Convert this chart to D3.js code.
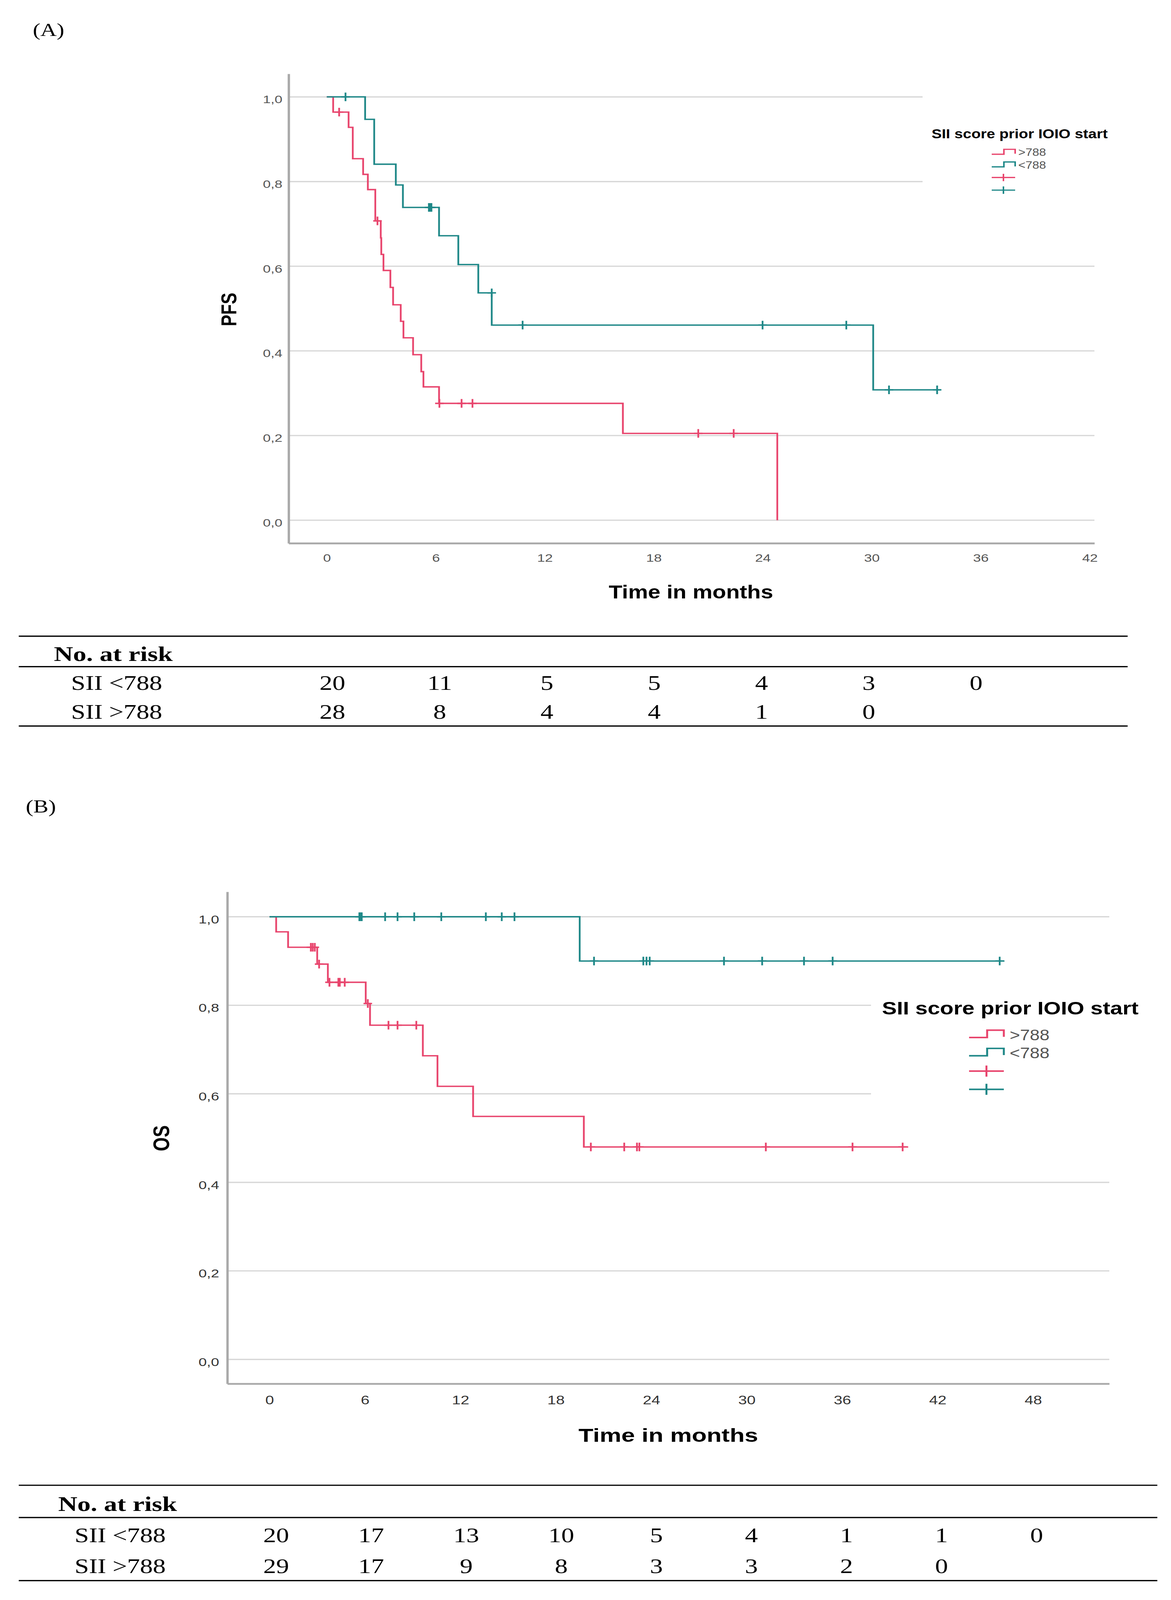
<!DOCTYPE html>
<html>
<head>
<meta charset="utf-8">
<script src="https://cdn.jsdelivr.net/npm/d3@7"></script>
<style>
  html, body { margin: 0; background: #fff; overflow: hidden; }
  svg { display: block; }
</style>
</head>
<body>
<svg id="chart"></svg>
<script>
// ---- data ----
var groups = [">788", "<788"];
var rowLabels = ["SII <788", "SII >788"];
var yTicks = [0, 0.2, 0.4, 0.6, 0.8, 1.0];

// (A) PFS
var pfsTicks = [0, 6, 12, 18, 24, 30, 36, 42];
// >788 : [time, survival after the drop]
var pfsHighSteps = [[0, 1], [0.35, 0.964], [1.2, 0.928], [1.43, 0.854], [2.0, 0.817], [2.26, 0.781],
  [2.67, 0.707], [2.97, 0.667], [3.0, 0.628], [3.12, 0.59], [3.5, 0.55], [3.65, 0.509], [4.07, 0.47],
  [4.22, 0.431], [4.75, 0.391], [5.2, 0.351], [5.32, 0.315], [6.18, 0.276], [16.3, 0.205], [24.8, 0]];
var pfsHighCensor = [0.68, 2.79, 6.2, 7.42, 8.02, 20.45, 22.4];
var pfsHighEnd = 24.8;
// <788
var pfsLowSteps = [[0, 1], [2.11, 0.947], [2.61, 0.841], [3.8, 0.792], [4.19, 0.739], [6.18, 0.672],
  [7.24, 0.604], [8.34, 0.537], [9.08, 0.461], [30.08, 0.308]];
var pfsLowCensor = [1.03, 5.62, 5.7, 5.76, 9.08, 10.78, 23.99, 28.6, 30.95, 33.6];
var pfsLowEnd = 33.8;
var pfsRiskTimes = [0, 6, 12, 18, 24, 30, 36];
var pfsRiskLow = [20, 11, 5, 5, 4, 3, 0];
var pfsRiskHigh = [28, 8, 4, 4, 1, 0];

// (B) OS
var osTicks = [0, 6, 12, 18, 24, 30, 36, 42, 48];
var osHighSteps = [[0, 1], [0.42, 0.966], [1.17, 0.931], [3.0, 0.893], [3.67, 0.852], [6.05, 0.804],
  [6.32, 0.755], [9.64, 0.686], [10.56, 0.617], [12.8, 0.549], [19.76, 0.48]];
var osHighCensor = [2.6, 2.72, 2.85, 3.12, 3.77, 4.33, 4.42, 4.73, 6.18, 7.48, 8.05, 9.23,
  20.2, 22.3, 23.1, 23.25, 31.2, 36.65, 39.8];
var osHighEnd = 40.15;
var osLowSteps = [[0, 1], [19.5, 0.9]];
var osLowCensor = [5.65, 5.72, 5.8, 7.27, 8.05, 9.1, 10.8, 13.6, 14.6, 15.4, 20.4, 23.5, 23.7, 23.9,
  28.57, 30.97, 33.6, 35.4, 45.9];
var osLowEnd = 46.2;
var osRiskTimes = [0, 6, 12, 18, 24, 30, 36, 42, 48];
var osRiskLow = [20, 17, 13, 10, 5, 4, 1, 1, 0];
var osRiskHigh = [29, 17, 9, 8, 3, 3, 2, 0];

var RED = "#e8456d";
var TEAL = "#1f8888";
var SANS = "'Liberation Sans', Arial, sans-serif";
var SERIF = "'Palatino Linotype', 'Book Antiqua', 'Liberation Serif', serif";

// the figure is laid out on a 2998 x 5201 board; the board is fitted to the window
// (the window may be shorter than 5201, so the whole figure stays visible)
var W = 2998, H = 5201;
var svg = d3.select("#chart")
  .attr("width", window.innerWidth || W)
  .attr("height", window.innerHeight || H)
  .attr("viewBox", "0 0 " + W + " " + H)
  .attr("preserveAspectRatio", "none");
svg.append("rect").attr("width", W).attr("height", H).attr("fill", "#fff");

function survAt(steps, t) {
  var s = 1;
  steps.forEach(function (d) { if (d[0] < t) s = d[1]; });
  return s;
}

function drawPanel(p) {
  var x = d3.scaleLinear().domain(p.xDomain).range(p.xRange);
  var y = d3.scaleLinear().domain(p.yDomain).range(p.yRange);
  var g = svg.append("g");

  // panel letter
  svg.append("text")
    .attr("x", p.letterX).attr("y", p.letterY)
    .attr("font-family", SERIF).attr("font-size", 58)
    .text(p.letter);

  // gridlines (two are cut short by the legend)
  g.selectAll(".grid").data(yTicks).enter().append("line")
    .attr("x1", p.xRange[0])
    .attr("x2", function (d) { return p.shortGrid.indexOf(d) >= 0 ? p.shortEnd : p.xRange[1]; })
    .attr("y1", function (d) { return y(d); })
    .attr("y2", function (d) { return y(d); })
    .attr("stroke", "#d6d6d6").attr("stroke-width", 4);

  // x axis
  var xa = g.append("g")
    .attr("transform", "translate(0," + p.yRange[0] + ")")
    .call(d3.axisBottom(x).tickValues(p.xTicks).tickSize(0).tickSizeOuter(0)
      .tickPadding(p.xPad).tickFormat(d3.format("d")));
  xa.select(".domain").attr("stroke", "#a9a9a9").attr("stroke-width", 6);
  xa.selectAll("text").attr("font-family", SANS).attr("font-size", p.xFont).attr("fill", p.tickFill);

  // y axis
  var ya = g.append("g")
    .attr("transform", "translate(" + p.xRange[0] + ",0)")
    .call(d3.axisLeft(y).tickValues(yTicks).tickSize(0).tickSizeOuter(0)
      .tickPadding(p.yPad).tickFormat(function (d) { return d3.format(".1f")(d).replace(".", ","); }));
  ya.select(".domain").attr("stroke", "#a9a9a9").attr("stroke-width", 6);
  ya.selectAll("text").attr("font-family", SANS).attr("font-size", p.yFont)
    .attr("fill", p.tickFill).attr("dy", "0.55em");

  // axis titles
  g.append("text")
    .attr("x", p.xTitle[0]).attr("y", p.xTitle[1])
    .attr("text-anchor", "middle")
    .attr("font-family", SANS).attr("font-weight", "bold").attr("font-size", p.xTitleFont)
    .attr("textLength", p.xTitleLen).attr("lengthAdjust", "spacingAndGlyphs")
    .text("Time in months");
  g.append("text")
    .attr("transform", "translate(" + p.yTitle[0] + "," + p.yTitle[1] + ") rotate(-90)")
    .attr("text-anchor", "middle").attr("dy", "0.36em")
    .attr("font-family", SANS).attr("font-weight", "bold").attr("font-size", p.yTitleFont)
    .text(p.yTitleText);

  // curves + censor marks
  var line = d3.line()
    .x(function (d) { return x(d[0]); })
    .y(function (d) { return y(d[1]); })
    .curve(d3.curveStepAfter);

  p.series.forEach(function (s) {
    var pts = s.steps.concat([[s.end, s.steps[s.steps.length - 1][1]]]);
    g.append("path").datum(pts)
      .attr("d", line)
      .attr("fill", "none").attr("stroke", s.color).attr("stroke-width", 4.5);
    g.selectAll(null).data(s.censor).enter().append("path")
      .attr("d", function (d) {
        var cx = x(d), cy = y(survAt(s.steps, d));
        return "M" + (cx - 11) + "," + cy + "h22M" + cx + "," + (cy - 14) + "v28";
      })
      .attr("stroke", s.color).attr("stroke-width", 4.5).attr("fill", "none");
  });

  // legend
  var L = p.legend;
  g.append("text")
    .attr("x", L.titleX).attr("y", L.titleY)
    .attr("font-family", SANS).attr("font-weight", "bold").attr("font-size", L.titleFont)
    .attr("textLength", L.titleLen).attr("lengthAdjust", "spacingAndGlyphs")
    .text("SII score prior IOIO start");
  var colors = [RED, TEAL];
  var rows = d3.scalePoint().domain(d3.range(4)).range(L.rowY);
  groups.forEach(function (name, i) {
    var cy = rows(i);
    var x0 = L.symX, w = L.symW, h = L.symH;
    g.append("path")
      .attr("d", "M" + x0 + "," + (cy + h * 0.4) + "H" + (x0 + w * 0.52) + "V" + (cy - h * 0.6) +
        "H" + (x0 + w) + "V" + (cy + h * 0.3))
      .attr("fill", "none").attr("stroke", colors[i]).attr("stroke-width", L.sw);
    g.append("text")
      .attr("x", L.textX).attr("y", cy).attr("dy", "0.36em")
      .attr("font-family", SANS).attr("font-size", L.itemFont).attr("fill", "#555")
      .attr("textLength", L.itemLen).attr("lengthAdjust", "spacingAndGlyphs")
      .text(name);
    var cy2 = rows(i + 2);
    g.append("path")
      .attr("d", "M" + x0 + "," + cy2 + "H" + (x0 + w) + "M" + (x0 + w * 0.5) + "," + (cy2 - h * 0.75) + "v" + (h * 1.5))
      .attr("fill", "none").attr("stroke", colors[i]).attr("stroke-width", L.sw);
  });
}

function drawTable(t) {
  var g = svg.append("g").attr("font-family", SERIF);
  g.selectAll("line").data(t.lines).enter().append("line")
    .attr("x1", 48).attr("x2", t.right)
    .attr("y1", function (d) { return d; }).attr("y2", function (d) { return d; })
    .attr("stroke", "#000").attr("stroke-width", 4);
  g.append("text").attr("x", t.headX).attr("y", t.headY)
    .attr("font-weight", "bold").attr("font-size", 68).text("No. at risk");
  var col = d3.scalePoint().domain(t.times).range(t.colRange);
  [t.low, t.high].forEach(function (vals, r) {
    g.append("text").attr("x", t.labelX).attr("y", t.rowY[r])
      .attr("font-size", 66).text(rowLabels[r]);
    g.selectAll(null).data(vals).enter().append("text")
      .attr("x", function (d, i) { return col(t.times[i]); })
      .attr("y", t.rowY[r])
      .attr("text-anchor", "middle").attr("font-size", 66)
      .text(function (d) { return d; });
  });
}

drawPanel({
  letter: "(A)", letterX: 84, letterY: 117,
  xDomain: [-2.1, 42.26], xRange: [739, 2802],
  yDomain: [-0.0545, 1.0545], yRange: [1766, 240],
  xTicks: pfsTicks, xPad: 35, xFont: 36, yPad: 16, yFont: 36, tickFill: "#555",
  shortGrid: [0.8, 1.0], shortEnd: 2362,
  xTitle: [1769, 1945], xTitleFont: 60, xTitleLen: 421,
  yTitle: [585, 1006], yTitleFont: 56, yTitleText: "PFS",
  series: [
    { steps: pfsHighSteps, censor: pfsHighCensor, end: pfsHighEnd, color: RED },
    { steps: pfsLowSteps, censor: pfsLowCensor, end: pfsLowEnd, color: TEAL }
  ],
  legend: { titleX: 2385, titleY: 449, titleFont: 42, titleLen: 451,
    rowY: [495, 618], symX: 2539, symW: 60, symH: 16, sw: 4,
    textX: 2607, itemFont: 34, itemLen: 71 }
});

drawTable({
  lines: [2068, 2167, 2360], right: 2887,
  headX: 138, headY: 2148, labelX: 182, rowY: [2243, 2337],
  times: pfsRiskTimes, colRange: [851, 2499],
  low: pfsRiskLow, high: pfsRiskHigh
});

drawPanel({
  letter: "(B)", letterX: 66, letterY: 2641,
  xDomain: [-2.65, 52.79], xRange: [582, 2840],
  yDomain: [-0.0549, 1.0563], yRange: [4498, 2899],
  xTicks: osTicks, xPad: 39, xFont: 40, yPad: 21, yFont: 38, tickFill: "#333",
  shortGrid: [0.8, 0.6], shortEnd: 2230,
  xTitle: [1711, 4687], xTitleFont: 62, xTitleLen: 460,
  yTitle: [412, 3700], yTitleFont: 58, yTitleText: "OS",
  series: [
    { steps: osHighSteps, censor: osHighCensor, end: osHighEnd, color: RED },
    { steps: osLowSteps, censor: osLowCensor, end: osLowEnd, color: TEAL }
  ],
  legend: { titleX: 2258, titleY: 3298, titleFont: 58, titleLen: 657,
    rowY: [3363, 3541], symX: 2481, symW: 89, symH: 24, sw: 5,
    textX: 2585, itemFont: 50, itemLen: 102 }
});

drawTable({
  lines: [4828, 4933, 5138], right: 2963,
  headX: 149, headY: 4912, labelX: 191, rowY: [5013, 5113],
  times: osRiskTimes, colRange: [707, 2654],
  low: osRiskLow, high: osRiskHigh
});
</script>
</body>
</html>
